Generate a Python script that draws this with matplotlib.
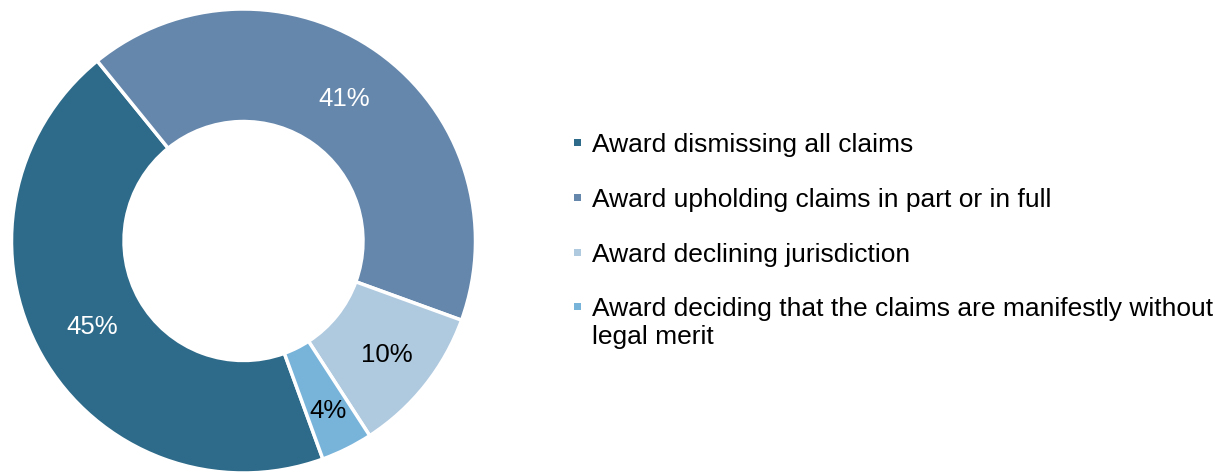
import numpy as np
import matplotlib.pyplot as plt
from matplotlib.patches import Rectangle

plt.rcParams['font.family'] = ['Liberation Sans', 'DejaVu Sans']

# data
categories = [
    "Award dismissing all claims",
    "Award upholding claims in part or in full",
    "Award declining jurisdiction",
    "Award deciding that the claims are manifestly without\nlegal merit",
]
shares = [44.7, 41.4, 10.3, 3.6]
colors = ["#2E6B8A", "#6587AC", "#AFC9DF", "#78B3DA"]
label_colors = ["white", "white", "black", "black"]
label_dist = [0.75, 0.75, 0.79, 0.82]

W, H = 1230, 474
fig = plt.figure(figsize=(W / 100, H / 100), dpi=100)

# donut: centre (243.5, 241) px from top-left, radius 232 px
R = 232
cx, cy = 243.5, 241
ax = fig.add_axes([(cx - R) / W, (H - cy - R) / H, 2 * R / W, 2 * R / H])
wedges, texts, autotexts = ax.pie(
    shares, colors=colors, startangle=-70, counterclock=False,
    autopct=lambda p: "{:.0f}%".format(p), pctdistance=0.76,
    wedgeprops=dict(width=0.485, edgecolor="white", linewidth=2.5),
    textprops=dict(fontsize=18.5))
for w, t, c, d in zip(wedges, autotexts, label_colors, label_dist):
    t.set_color(c)
    th = np.deg2rad((w.theta1 + w.theta2) / 2)
    t.set_position((d * np.cos(th), d * np.sin(th)))
ax.set_xlim(-1, 1)
ax.set_ylim(-1, 1)
ax.set_aspect("equal")

# legend drawn in pixel space
lax = fig.add_axes([0, 0, 1, 1])
lax.set_xlim(0, W)
lax.set_ylim(H, 0)
lax.axis("off")
row_y0 = 142.5
row_gap = 54.8
line_gap = 28
for i, (name, col) in enumerate(zip(categories, colors)):
    y = row_y0 + i * row_gap
    lax.add_patch(Rectangle((574, y - 3.5), 7, 7, facecolor=col, edgecolor="none"))
    for k, line in enumerate(name.split("\n")):
        lax.text(592, y + 9.5 + k * line_gap, line, fontsize=19,
                 va="baseline", ha="left", color="black")

fig.savefig("out.png", dpi=100)
